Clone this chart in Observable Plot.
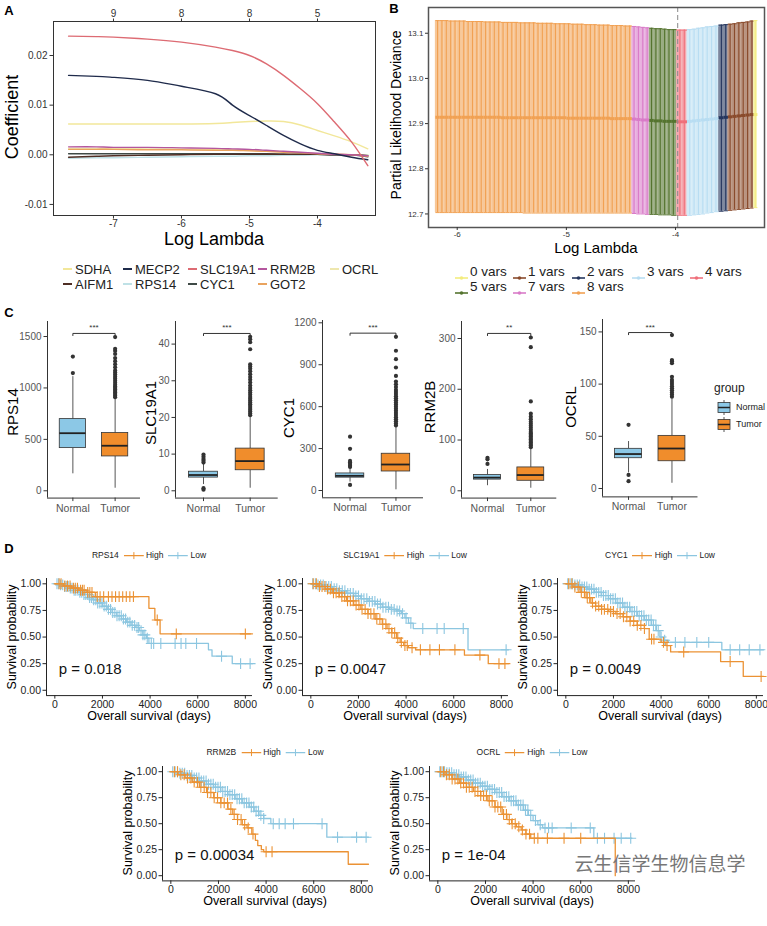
<!DOCTYPE html>
<html><head><meta charset="utf-8">
<script src="https://cdn.jsdelivr.net/npm/d3@7"></script>
<script src="https://cdn.jsdelivr.net/npm/@observablehq/plot@0.6"></script>
<style>
html,body{margin:0;padding:0;background:#fff;}
#root{position:relative;width:767px;height:926px;overflow:hidden;background:#fff;font-family:"Liberation Sans",Arial,Helvetica,sans-serif;}
.t{position:absolute;white-space:nowrap;line-height:1;}
</style></head><body><div id="root"></div>
<script>
// ---------------- DATA ----------------
// Panel A: coefficient paths
const lambdaA = [-7.66,-7.25,-7.0,-6.5,-6.0,-5.5,-5.25,-5.0,-4.75,-4.5,-4.25,-4.0,-3.75,-3.5,-3.26];
const coefSDHA    = [0.0062,0.0062,0.0062,0.0062,0.0062,0.0063,0.0065,0.0067,0.0068,0.0067,0.0060,0.0049,0.0038,0.0026,0.0012];
const coefMECP2   = [0.0160,0.0158,0.0156,0.0150,0.0138,0.0123,0.0100,0.0079,0.0059,0.0039,0.0022,0.0009,0.0002,-0.0005,-0.0010];
const coefSLC19A1 = [0.0239,0.0238,0.0237,0.0233,0.0227,0.0217,0.0210,0.0200,0.0183,0.0160,0.0133,0.0103,0.0066,0.0026,-0.0022];
const coefRRM2B   = [0.0016,0.0016,0.0015,0.0015,0.0014,0.0013,0.0012,0.0011,0.0009,0.0007,0.0005,0.0003,0.0001,0.0000,-0.0002];
const coefOCRL    = [0.0013,0.0013,0.0013,0.0012,0.0012,0.0011,0.0010,0.0009,0.0008,0.0006,0.0004,0.0002,0.0001,0.0000,-0.0001];
const coefAIFM1   = [-0.0005,-0.0003,-0.0002,-0.0001,0.0000,0.0001,0.0001,0.0001,0.0001,0.0001,0.0001,0.0001,0.0000,0.0000,-0.0002];
const coefRPS14   = [-0.0007,-0.0006,-0.0006,-0.0005,-0.0004,-0.0003,-0.0003,-0.0002,-0.0002,-0.0001,-0.0001,0.0000,0.0000,0.0000,0.0000];
const coefCYC1    = [0.0002,0.0002,0.0002,0.0002,0.0002,0.0002,0.0002,0.0002,0.0002,0.0001,0.0001,0.0001,0.0000,0.0000,-0.0004];
const coefGOT2    = [0.0011,0.0011,0.0011,0.0010,0.0010,0.0009,0.0009,0.0008,0.0007,0.0005,0.0004,0.0002,0.0001,0.0000,-0.0003];
const genesA = ["SDHA","MECP2","SLC19A1","RRM2B","OCRL","AIFM1","RPS14","CYC1","GOT2"];
const colorsA = ["#F2E79A","#1F2B4B","#DD6B73","#B4569E","#EEE7AE","#4F2E24","#BFE1E6","#3F4A46","#E9A35E"];
const xTicksA = [-7,-6,-5,-4];
const topLabelsA = ["9","8","8","5"];
const yTicksA = [-0.01,0,0.01,0.02];

// Panel B: cross-validation deviance
const logLambdaB = [-6.18,-6.14,-6.10,-6.06,-6.02,-5.98,-5.94,-5.90,-5.86,-5.82,-5.78,-5.74,-5.70,-5.66,-5.62,-5.58,-5.54,-5.50,-5.46,-5.42,-5.38,-5.34,-5.30,-5.26,-5.22,-5.18,-5.14,-5.10,-5.06,-5.02,-4.98,-4.94,-4.90,-4.86,-4.82,-4.78,-4.74,-4.70,-4.66,-4.62,-4.58,-4.54,-4.50,-4.46,-4.42,
  -4.38,-4.34,-4.30,-4.26,
  -4.22,-4.18,-4.14,-4.10,-4.06,-4.02,
  -3.96,-3.92,
  -3.87,-3.83,-3.79,-3.75,-3.71,-3.67,-3.63,
  -3.58,-3.54,
  -3.50,-3.46,-3.42,-3.38,-3.34,-3.30,
  -3.27];
const cvUp = [13.128,13.128,13.128,13.127,13.127,13.127,13.127,13.126,13.126,13.126,13.126,13.125,13.125,13.125,13.125,13.124,13.124,13.124,13.124,13.123,13.123,13.123,13.123,13.122,13.122,13.122,13.122,13.121,13.121,13.121,13.121,13.120,13.120,13.120,13.119,13.119,13.119,13.118,13.118,13.118,13.117,13.117,13.117,13.116,13.116,
  13.115,13.114,13.113,13.112,
  13.111,13.110,13.110,13.109,13.108,13.108,
  13.107,13.107,
  13.108,13.109,13.111,13.112,13.114,13.115,13.116,
  13.118,13.119,
  13.120,13.121,13.123,13.124,13.125,13.127,
  13.128];
const cvLo = [12.703,12.703,12.703,12.703,12.703,12.703,12.703,12.703,12.703,12.703,12.703,12.703,12.703,12.703,12.703,12.703,12.703,12.703,12.703,12.703,12.702,12.702,12.702,12.702,12.702,12.702,12.702,12.702,12.702,12.702,12.702,12.702,12.702,12.702,12.702,12.702,12.702,12.702,12.702,12.702,12.702,12.702,12.702,12.702,12.702,
  12.701,12.700,12.700,12.699,
  12.699,12.699,12.698,12.698,12.698,12.697,
  12.697,12.697,
  12.697,12.698,12.699,12.700,12.702,12.703,12.705,
  12.706,12.707,
  12.708,12.709,12.710,12.711,12.712,12.713,
  12.714];
const cvMean = [12.914,12.914,12.914,12.914,12.914,12.914,12.914,12.914,12.914,12.914,12.914,12.914,12.914,12.914,12.914,12.913,12.913,12.913,12.913,12.913,12.913,12.913,12.913,12.913,12.913,12.913,12.913,12.913,12.913,12.913,12.912,12.912,12.912,12.912,12.912,12.912,12.912,12.912,12.912,12.912,12.911,12.911,12.911,12.911,12.911,
  12.910,12.909,12.908,12.908,
  12.907,12.906,12.906,12.905,12.905,12.905,
  12.904,12.904,
  12.905,12.906,12.907,12.908,12.909,12.910,12.911,
  12.913,12.914,
  12.915,12.916,12.917,12.918,12.919,12.920,
  12.920];
const nvarsSeg = ["8 vars","7 vars","5 vars","4 vars","3 vars","2 vars","1 vars","0 vars"];
const segCount = [45,4,6,2,7,2,6,1];
const lambdaMinB = -3.98;
const nvarsLevels = ["0 vars","1 vars","2 vars","3 vars","4 vars","5 vars","7 vars","8 vars"];
const nvarsColors = ["#F3EC7E","#8A4B2C","#25365E","#B8DDF2","#EF6F7A","#55742F","#D97BC8","#F1A153"];
const xTicksB = [-6,-5,-4];
const yTicksB = [12.7,12.8,12.9,13.0,13.1];

// Panel C: boxplots  [lower whisker, Q1, median, Q3, upper whisker]
const boxGenes = ["RPS14","SLC19A1","CYC1","RRM2B","OCRL"];
const normalStats = [[165,415,560,697,1110],[1.7,3.6,4.3,5.2,7.2],[60,92,105,122,160],[10,22,26,31,42],[15,29,33,38,45]];
const tumorStats  = [[25,334,438,561,895],[0.7,5.6,8.1,11.5,20.2],[5,136,186,263,455],[5,19.7,31,46,84],[5,26.1,38.3,50.4,86]];
const normalOut = [[1145,1305],[7.7,8.2,8.7,9.3,9.9,0.3,0.7],[168,178,190,200,212,298,385,40],[53,62,65],[61,13,7]];
const tumorOut = [
  [910,925,940,955,970,985,1000,1015,1030,1050,1070,1090,1110,1130,1150,1170,1200,1230,1260,1290,1330,1360,1380,1495],
  [20.6,21.1,21.6,22.1,22.6,23.1,23.6,24.1,24.6,25.1,25.6,26.2,26.8,27.4,28.0,28.7,29.5,30.3,31.0,31.8,32.6,33.3,33.9,34.5,38.6,40.5,41.3,42.0],
  [465,480,495,510,525,540,555,570,585,600,615,630,645,660,675,690,705,720,740,760,780,820,880,940,1000,1100],
  [86,89,92,95,98,101,104,107,110,113,116,120,124,128,132,136,141,146,152,176,283,302],
  [88,90,92,94,96,98,100,102,104,107,120,122,123,147]];
const bracketY = [1530,42.9,1126,310,149.4];
const sigLabels = ["***","***","***","**","***"];
const yTicksC = [[0,500,1000,1500],[0,10,20,30,40],[0,300,600,900,1200],[0,100,200,300],[0,50,100,150]];
const groupsC = ["Normal","Tumor"];

// Panel D: Kaplan-Meier curves  [time (days), survival]
const kmGenes = ["RPS14","SLC19A1","CYC1","RRM2B","OCRL"];
const pLabels = ["p = 0.018","p = 0.0047","p = 0.0049","p = 0.00034","p = 1e-04"];
const highSteps = [
  [[0,1],[350,0.98],[700,0.96],[1000,0.94],[1350,0.92],[1700,0.88],[3950,0.77],[4200,0.66],[4420,0.53],[8300,0.53]],
  [[0,1],[300,0.975],[600,0.95],[900,0.915],[1200,0.88],[1500,0.84],[1800,0.80],[2100,0.76],[2400,0.72],[2700,0.67],[3000,0.62],[3200,0.58],[3400,0.54],[3600,0.49],[3750,0.45],[3900,0.42],[4100,0.40],[4400,0.38],[6450,0.33],[7450,0.25],[8300,0.25]],
  [[0,1],[300,0.97],[600,0.92],[850,0.87],[1050,0.82],[1250,0.79],[1500,0.76],[1800,0.74],[2100,0.72],[2400,0.69],[2700,0.65],[3000,0.61],[3300,0.58],[3500,0.48],[4000,0.45],[4200,0.42],[4400,0.36],[6500,0.27],[7450,0.13],[8300,0.13]],
  [[0,1],[300,0.97],[600,0.94],[900,0.90],[1200,0.85],[1500,0.80],[1800,0.75],[2100,0.70],[2400,0.64],[2600,0.59],[2800,0.54],[3000,0.49],[3200,0.46],[3400,0.40],[3550,0.34],[3650,0.29],[3800,0.25],[3900,0.23],[7450,0.11],[8300,0.11]],
  [[0,1],[300,0.97],[600,0.93],[900,0.89],[1200,0.85],[1500,0.81],[1800,0.77],[2100,0.72],[2400,0.66],[2700,0.59],[2900,0.54],[3100,0.50],[3300,0.47],[3500,0.44],[3700,0.40],[3900,0.36],[7450,0.0]]];
const lowSteps = [
  [[0,1],[200,0.99],[400,0.975],[600,0.96],[800,0.94],[1000,0.92],[1200,0.90],[1400,0.87],[1600,0.85],[1800,0.82],[2000,0.79],[2200,0.76],[2400,0.73],[2600,0.70],[2800,0.67],[3000,0.64],[3200,0.61],[3400,0.59],[3550,0.56],[3700,0.52],[3850,0.49],[3950,0.44],[6450,0.38],[6600,0.32],[7450,0.25],[8300,0.25]],
  [[0,1],[300,0.99],[600,0.975],[900,0.955],[1200,0.935],[1500,0.91],[1800,0.885],[2100,0.86],[2400,0.835],[2700,0.81],[3000,0.78],[3300,0.76],[3600,0.745],[3800,0.72],[3950,0.68],[4100,0.63],[4300,0.58],[6600,0.38],[8300,0.38]],
  [[0,1],[300,0.99],[600,0.97],[900,0.95],[1200,0.92],[1500,0.89],[1800,0.86],[2100,0.82],[2400,0.78],[2700,0.74],[3000,0.70],[3300,0.66],[3600,0.61],[3800,0.56],[3950,0.50],[4100,0.47],[4300,0.45],[6550,0.38],[8300,0.38]],
  [[0,1],[300,0.985],[600,0.965],[900,0.94],[1200,0.91],[1500,0.88],[1800,0.85],[2100,0.81],[2400,0.78],[2700,0.74],[3000,0.70],[3300,0.66],[3500,0.62],[3700,0.58],[3900,0.55],[4200,0.50],[6550,0.37],[8300,0.37]],
  [[0,1],[300,0.99],[600,0.97],[900,0.95],[1200,0.92],[1500,0.89],[1800,0.86],[2100,0.83],[2400,0.80],[2700,0.76],[3000,0.72],[3300,0.68],[3600,0.63],[3800,0.58],[4000,0.53],[4200,0.49],[4400,0.46],[6550,0.36],[8150,0.36]]];
const highCens = [
  [180,260,420,530,640,780,860,950,1080,1160,1230,1380,1470,1560,1780,1900,2050,2250,2400,2550,2700,2850,3000,3150,3300,4300,5100,8000],
  [100,230,360,470,590,700,820,950,1060,1180,1300,1420,1540,1660,1780,1900,2020,2150,2280,2400,2520,2650,2770,2900,3020,3150,3280,3400,3520,3650,3800,3950,4050,4250,4600,5000,5400,6050,7100,7900,8150],
  [120,250,380,520,650,780,900,1000,1120,1250,1380,1500,1620,1760,1880,2000,2150,2280,2420,2560,2700,2850,3000,3150,3300,3600,3700,4100,4250,4950,6900,8200],
  [150,280,420,560,700,840,980,1120,1260,1400,1540,1680,1820,1960,2100,2240,2380,2520,2660,2800,2950,3100,3250,3450,4000,4250],
  [120,240,360,480,600,720,840,960,1080,1200,1320,1440,1560,1680,1800,1920,2040,2160,2280,2400,2520,2640,2760,2880,3000,3120,3250,3400,3550,3700,3850,4050,4200,4600,5300,6000]];
const lowCens = [
  [90,160,240,330,410,480,560,650,720,810,880,970,1050,1130,1220,1300,1380,1460,1540,1630,1720,1800,1890,1980,2070,2160,2250,2340,2430,2520,2610,2700,2790,2880,2970,3060,3150,3250,3350,3450,3520,3620,3700,3780,3880,4050,4150,4450,5050,5300,5500,5950,7000,7800,8200],
  [80,190,300,410,520,640,750,860,980,1090,1200,1320,1430,1550,1660,1780,1890,2000,2120,2230,2350,2460,2580,2690,2800,2920,3030,3150,3260,3380,3500,3620,3730,3850,4000,4200,4700,5300,5600,6400,8200],
  [80,180,280,380,480,580,680,780,880,980,1080,1180,1280,1380,1480,1580,1680,1780,1880,1980,2080,2180,2280,2380,2480,2580,2680,2780,2880,2980,3080,3180,3280,3380,3480,3580,3680,3780,3880,4000,4150,4600,5000,5500,6000,6900,7300,7700,8150],
  [80,180,280,380,480,580,680,780,880,980,1080,1180,1280,1380,1480,1580,1680,1780,1880,1980,2080,2180,2280,2380,2480,2580,2680,2780,2880,2980,3080,3180,3280,3380,3480,3580,3680,3780,3900,4300,4550,4800,5150,6350,7000,7800,8200],
  [80,180,280,380,480,580,680,780,880,980,1080,1180,1280,1380,1480,1580,1680,1780,1880,1980,2080,2180,2280,2380,2480,2580,2680,2780,2880,2980,3080,3180,3280,3380,3480,3580,3680,3780,3900,4100,4300,4500,4650,4800,5600,6400,6700,7000,7400,7700,8100]];
const xTicksD = [0,2000,4000,6000,8000];
const yTicksD = [0,0.25,0.5,0.75,1];

// ---------------- STYLE / LAYOUT ----------------
const FONT = '"Liberation Sans", Arial, Helvetica, sans-serif';
const NORMAL = "#8CC8E6", TUMOR = "#F08D2C";
const HIGH = "#EB9234", LOW = "#8CC6E0";
const root = document.getElementById("root");

function place(f, opts) {
  const w = f.x1 - f.x0, h = f.y1 - f.y0;
  const svg = Plot.plot(Object.assign({width: w, height: h, marginTop: 0, marginRight: 0, marginBottom: 0, marginLeft: 0}, opts));
  svg.style.position = "absolute";
  svg.style.left = f.x0 + "px"; svg.style.top = f.y0 + "px";
  svg.style.width = w + "px"; svg.style.height = h + "px";
  svg.style.maxWidth = "none"; svg.style.overflow = "visible";
  svg.style.background = "transparent"; svg.style.fontFamily = FONT;
  root.appendChild(svg);
  return svg;
}
function T(s, x, y, o = {}) {
  const d = document.createElement("div");
  d.className = "t"; d.textContent = s;
  d.style.left = x + "px"; d.style.top = y + "px";
  d.style.fontSize = (o.size || 10) + "px";
  d.style.color = o.color || "#000";
  if (o.weight) d.style.fontWeight = o.weight;
  if (o.family) d.style.fontFamily = o.family;
  const a = o.anchor || "middle";
  const tx = a === "start" ? "0" : a === "end" ? "-100%" : "-50%";
  d.style.transform = o.rotate ? "translate(-50%,-50%) rotate(-90deg)" : `translate(${tx},-50%)`;
  root.appendChild(d);
  return d;
}
function H(html, x, y, w, h) {
  const d = document.createElement("div");
  d.style.position = "absolute"; d.style.left = x + "px"; d.style.top = y + "px";
  d.style.width = w + "px"; d.style.height = h + "px";
  d.innerHTML = html; root.appendChild(d); return d;
}

// panel letters
T("A", 9, 10, {size: 13, weight: "bold"});
T("B", 394, 8, {size: 13, weight: "bold"});
T("C", 9, 312, {size: 13, weight: "bold"});
T("D", 9, 548, {size: 13, weight: "bold"});

// ---------------- PANEL A ----------------
const seriesA = [coefSDHA, coefMECP2, coefSLC19A1, coefRRM2B, coefOCRL, coefAIFM1, coefRPS14, coefCYC1, coefGOT2];
const coefRows = genesA.flatMap((g, gi) => lambdaA.map((l, i) => ({gene: g, lambda: l, coef: seriesA[gi][i]})));
const drawOrderA = ["RPS14","OCRL","CYC1","AIFM1","GOT2","RRM2B","SDHA","MECP2","SLC19A1"];
coefRows.sort((a, b) => drawOrderA.indexOf(a.gene) - drawOrderA.indexOf(b.gene));
place({x0: 53, y0: 21, x1: 375, y1: 215}, {
  x: {domain: [-7.882, -3.147], axis: null},
  y: {domain: [-0.01223, 0.02685], axis: null},
  color: {domain: genesA, range: colorsA},
  marks: [
    Plot.line(coefRows, {x: "lambda", y: "coef", z: "gene", stroke: "gene", curve: "natural", strokeWidth: 1.4}),
    Plot.frame({stroke: "#333", strokeWidth: 1}),
    Plot.axisY({ticks: yTicksA, tickFormat: d => d.toFixed(2), tickSize: 3.5, tickPadding: 2.5, fontSize: 10, color: "#333", label: null}),
    Plot.axisX({ticks: xTicksA, tickFormat: d => String(d), tickSize: 3.5, tickPadding: 0.5, fontSize: 10, color: "#333", label: null}),
    Plot.axisX({anchor: "top", ticks: xTicksA, tickFormat: d => topLabelsA[xTicksA.indexOf(d)], tickSize: 3.5, tickPadding: 1.5, fontSize: 10, color: "#333", label: null})
  ]
});
T("Coefficient", 12, 117, {size: 18, rotate: true});
T("Log Lambda", 214, 239, {size: 18});
const legA = [["SDHA",63,269],["MECP2",123,269],["SLC19A1",188,269],["RRM2B",258,269],["OCRL",330,269],
              ["AIFM1",63,284],["RPS14",123,284],["CYC1",188,284],["GOT2",258,284]];
legA.forEach(([g, x, y]) => {
  H("", x, y - 0.8, 9, 1.6).style.background = colorsA[genesA.indexOf(g)];
  T(g, x + 12, y, {size: 13, anchor: "start", color: "#222"});
});

// ---------------- PANEL B ----------------
const nzB = nvarsSeg.flatMap((s, i) => Array(segCount[i]).fill(s));
const bRows = logLambdaB.map((x, i) => {
  const prev = i > 0 ? (logLambdaB[i - 1] + x) / 2 : x - 0.02;
  const next = i < logLambdaB.length - 1 ? (logLambdaB[i + 1] + x) / 2 : x + 0.02;
  return {x, x1: prev, x2: next, lo: cvLo[i], up: cvUp[i], mean: cvMean[i], nz: nzB[i]};
});
place({x0: 428, y0: 7, x1: 764, y1: 227}, {
  x: {domain: [-6.263, -3.185], axis: null},
  y: {domain: [12.670, 13.157], axis: null},
  color: {domain: nvarsLevels, range: nvarsColors},
  marks: [
    Plot.rect(bRows, {x1: "x1", x2: "x2", y1: "lo", y2: "up", fill: "nz", fillOpacity: 0.6}),
    Plot.ruleX(bRows, {x: "x", y1: "lo", y2: "up", stroke: "nz", strokeWidth: 1.1}),
    Plot.link(bRows, {x1: "x1", x2: "x2", y1: "up", y2: "up", stroke: "nz", strokeWidth: 1}),
    Plot.link(bRows, {x1: "x1", x2: "x2", y1: "lo", y2: "lo", stroke: "nz", strokeWidth: 1}),
    Plot.link(bRows, {x1: "x1", x2: "x2", y1: "mean", y2: "mean", stroke: "nz", strokeWidth: 3}),
    Plot.ruleX([lambdaMinB], {stroke: "#888", strokeDasharray: "5,3", strokeWidth: 1}),
    Plot.frame({stroke: "#555", strokeWidth: 1.5}),
    Plot.axisY({ticks: yTicksB, tickFormat: d => d.toFixed(1), tickSize: 3, tickPadding: 2, fontSize: 8, color: "#333", label: null}),
    Plot.axisX({ticks: xTicksB, tickFormat: d => String(d), tickSize: 3, tickPadding: 1, fontSize: 8, color: "#333", label: null})
  ]
});
T("Partial Likelihood Deviance", 396, 115, {size: 14, rotate: true});
T("Log Lambda", 596, 247, {size: 15});
const legB = [["0 vars",455,272],["1 vars",513,272],["2 vars",572,272],["3 vars",632,272],["4 vars",690,272],
              ["5 vars",455,287],["7 vars",513,287],["8 vars",572,287]];
legB.forEach(([s, x, y]) => {
  const c = nvarsColors[nvarsLevels.indexOf(s)];
  H(`<svg width="13" height="8"><line x1="0" y1="4" x2="13" y2="4" stroke="${c}" stroke-width="1.6"/><circle cx="6.5" cy="4" r="1.8" fill="${c}"/></svg>`, x, y - 4, 13, 8);
  T(s, x + 15, y, {size: 13.5, anchor: "start", color: "#222"});
});

// ---------------- PANEL C ----------------
const framesC = [{x0: 47.3, x1: 140.3}, {x0: 175.3, x1: 278}, {x0: 322.4, x1: 423.4}, {x0: 460.7, x1: 556}, {x0: 602.3, x1: 697.8}];
const yDomC = [[-71, 1646], [-1.99, 46.16], [-52.2, 1216.5], [-14.4, 333.5], [-8.05, 161.9]];
const yTopC = [320.7, 320.7, 320.0, 320.7, 319.3], yBotC = [497.3, 497.3, 497.3, 497.3, 496.7];
const titleC = [[12, 412], [150, 413], [288, 418], [429, 407], [570, 407]];
const BW = 0.31;
boxGenes.forEach((g, i) => {
  const rows = [{grp: "Normal", pos: 1, st: normalStats[i]}, {grp: "Tumor", pos: 2, st: tumorStats[i]}];
  const outs = normalOut[i].map(v => ({pos: 1, v})).concat(tumorOut[i].map(v => ({pos: 2, v})));
  const yd = yDomC[i];
  const drop = (yd[1] - yd[0]) * 0.012;
  const br = [{x: 1, y: bracketY[i] - drop}, {x: 1, y: bracketY[i]}, {x: 2, y: bracketY[i]}, {x: 2, y: bracketY[i] - drop}];
  place({x0: framesC[i].x0, x1: framesC[i].x1, y0: yTopC[i], y1: yBotC[i]}, {
    x: {domain: [0.4, 2.6], axis: null},
    y: {domain: yd, axis: null},
    color: {domain: groupsC, range: [NORMAL, TUMOR]},
    marks: [
      Plot.ruleX(rows, {x: "pos", y1: d => d.st[0], y2: d => d.st[1], stroke: "#555", strokeWidth: 1}),
      Plot.ruleX(rows, {x: "pos", y1: d => d.st[3], y2: d => d.st[4], stroke: "#555", strokeWidth: 1}),
      Plot.rect(rows, {x1: d => d.pos - BW, x2: d => d.pos + BW, y1: d => d.st[1], y2: d => d.st[3], fill: "grp", stroke: "#333", strokeWidth: 0.8}),
      Plot.ruleY(rows, {y: d => d.st[2], x1: d => d.pos - BW, x2: d => d.pos + BW, stroke: "#222", strokeWidth: 1.8}),
      Plot.dot(outs, {x: "pos", y: "v", r: 2.1, fill: "#333"}),
      Plot.line(br, {x: "x", y: "y", stroke: "#333", strokeWidth: 1}),
      Plot.text([sigLabels[i]], {x: () => 1.5, y: () => bracketY[i], dy: -3, lineAnchor: "bottom", fontSize: 8, fill: "#333"}),
      Plot.ruleX([0.4], {stroke: "#333", strokeWidth: 1}),
      Plot.ruleY([yd[0]], {stroke: "#333", strokeWidth: 1}),
      Plot.axisY({ticks: yTicksC[i], tickFormat: d => String(d), tickSize: 3.5, tickPadding: 2.5, fontSize: 10, fill: "#555", stroke: "#333", label: null}),
      Plot.axisX({ticks: [1, 2], tickFormat: d => groupsC[d - 1], tickSize: 3.5, tickPadding: 2.5, fontSize: 10.5, fill: "#555", stroke: "#333", label: null})
    ]
  });
  T(g, titleC[i][0], titleC[i][1], {size: 15, rotate: true});
});
T("group", 714, 388, {size: 12, anchor: "start", color: "#222"});
[["Normal", NORMAL, 407], ["Tumor", TUMOR, 424]].forEach(([s, c, y]) => {
  H(`<svg width="14" height="15"><line x1="7" y1="0" x2="7" y2="15" stroke="#555"/><rect x="1" y="2.5" width="12" height="10" fill="${c}" stroke="#333" stroke-width="0.8"/><line x1="1" y1="7.5" x2="13" y2="7.5" stroke="#222" stroke-width="1.5"/></svg>`, 717, y - 7.5, 14, 15);
  T(s, 736, y, {size: 9, anchor: "start", color: "#222"});
});

// ---------------- PANEL D ----------------
const framesD = [
  {x0: 46, x1: 252, y0: 578.2, y1: 695.3}, {x0: 302, x1: 508, y0: 578.2, y1: 695.3}, {x0: 557, x1: 763, y0: 578.2, y1: 695.3},
  {x0: 162, x1: 368, y0: 765.8, y1: 880.2}, {x0: 429, x1: 635, y0: 765.8, y1: 880.2}];
const legYD = [555, 555, 555, 752, 752];
function survAt(steps, t) { let s = steps[0][1]; for (const [tt, ss] of steps) { if (tt <= t) s = ss; else break; } return s; }
kmGenes.forEach((g, i) => {
  const f = framesD[i];
  const hc = highCens[i].map(t => ({t, s: survAt(highSteps[i], t)}));
  const lc = lowCens[i].map(t => ({t, s: survAt(lowSteps[i], t)}));
  place(f, {
    x: {domain: [-350, 8300], axis: null},
    y: {domain: [-0.05, 1.05], axis: null},
    marks: [
      Plot.line(lowSteps[i], {x: d => d[0], y: d => d[1], curve: "step-after", stroke: LOW, strokeWidth: 1.3}),
      Plot.dot(lc, {x: "t", y: "s", symbol: "plus", r: 3.6, stroke: LOW, strokeWidth: 1.1}),
      Plot.line(highSteps[i], {x: d => d[0], y: d => d[1], curve: "step-after", stroke: HIGH, strokeWidth: 1.3}),
      Plot.dot(hc, {x: "t", y: "s", symbol: "plus", r: 3.6, stroke: HIGH, strokeWidth: 1.1}),
      Plot.text([pLabels[i]], {x: () => 166, y: () => 0.2, textAnchor: "start", fontSize: 15, fill: "#111"}),
      Plot.ruleX([-350], {stroke: "#222", strokeWidth: 1}),
      Plot.ruleY([-0.05], {stroke: "#222", strokeWidth: 1}),
      Plot.axisY({ticks: yTicksD, tickFormat: d => d.toFixed(2), tickSize: 3.5, tickPadding: 2, fontSize: 10.5, color: "#222", label: null}),
      Plot.axisX({ticks: xTicksD, tickFormat: d => String(d), tickSize: 3.5, tickPadding: 1, fontSize: 10.5, color: "#222", label: null})
    ]
  });
  const cx = (f.x0 + f.x1) / 2, cy = (f.y0 + f.y1) / 2;
  T("Survival probability", f.x0 - 34, cy, {size: 12.5, rotate: true});
  T("Overall survival (days)", cx, f.y1 + 21, {size: 12.5});
  const key = c => `<svg width="20" height="8" style="vertical-align:middle"><line x1="0" y1="4" x2="20" y2="4" stroke="${c}" stroke-width="1.3"/><line x1="10" y1="0.5" x2="10" y2="7.5" stroke="${c}" stroke-width="1"/></svg>`;
  const lg = document.createElement("div");
  lg.className = "t";
  lg.style.left = cx + "px"; lg.style.top = legYD[i] + "px";
  lg.style.transform = "translate(-50%,-50%)";
  lg.style.fontSize = "8.5px"; lg.style.color = "#222";
  lg.innerHTML = `<span>${g}</span>&nbsp;&nbsp;${key(HIGH)}&nbsp;<span>High</span>&nbsp;&nbsp;${key(LOW)}&nbsp;<span>Low</span>`;
  root.appendChild(lg);
});

// watermark
T("云生信学生物信息学", 660, 862, {size: 19, color: "#777", family: '"Noto Sans CJK SC", sans-serif'});
</script></body></html>
